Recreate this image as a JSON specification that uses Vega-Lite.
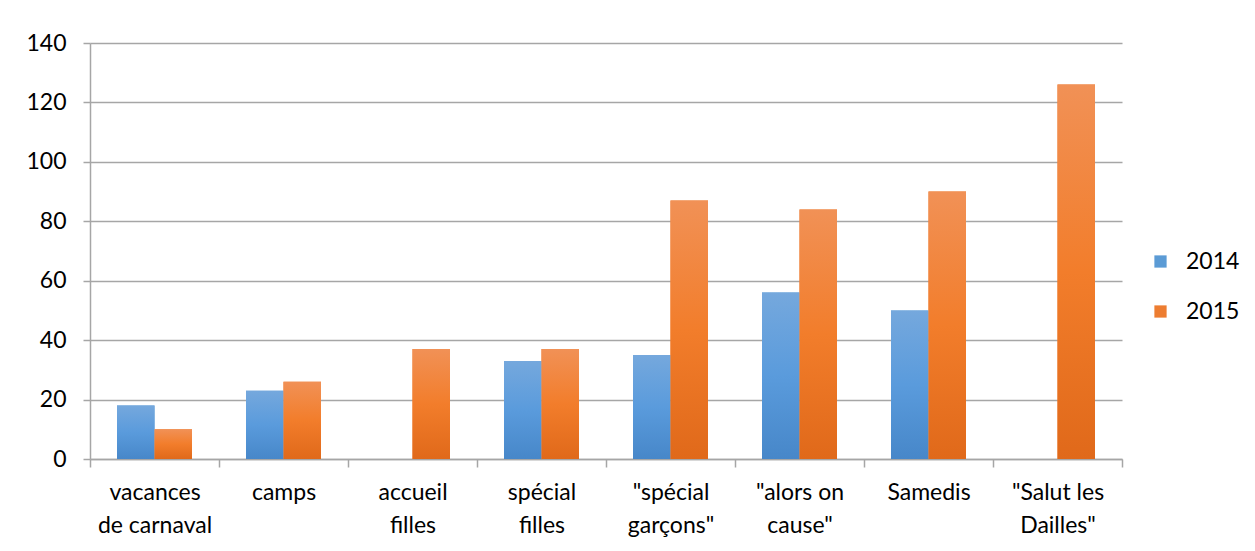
{
  "$schema": "https://vega.github.io/schema/vega-lite/v6.json",
  "autosize": {"type": "none"},
  "padding": {"left": 90, "top": 43, "right": 133, "bottom": 92},
  "width": 1032,
  "height": 416,
  "background": "white",
  "data": {
    "values": [
      {"activite": "vacances de carnaval", "annee": "2014", "participants": 18},
      {"activite": "vacances de carnaval", "annee": "2015", "participants": 10},
      {"activite": "camps", "annee": "2014", "participants": 23},
      {"activite": "camps", "annee": "2015", "participants": 26},
      {"activite": "accueil filles", "annee": "2015", "participants": 37},
      {"activite": "spécial filles", "annee": "2014", "participants": 33},
      {"activite": "spécial filles", "annee": "2015", "participants": 37},
      {"activite": "\"spécial garçons\"", "annee": "2014", "participants": 35},
      {"activite": "\"spécial garçons\"", "annee": "2015", "participants": 87},
      {"activite": "\"alors on cause\"", "annee": "2014", "participants": 56},
      {"activite": "\"alors on cause\"", "annee": "2015", "participants": 84},
      {"activite": "Samedis", "annee": "2014", "participants": 50},
      {"activite": "Samedis", "annee": "2015", "participants": 90},
      {"activite": "\"Salut les Dailles\"", "annee": "2015", "participants": 126}
    ]
  },
  "encoding": {
    "x": {
      "field": "activite",
      "type": "nominal",
      "sort": null,
      "title": null,
      "scale": {"paddingInner": 0, "paddingOuter": 0},
      "axis": {
        "labelAngle": 0,
        "labelFont": "Lato",
        "labelFontSize": 23,
        "labelColor": "#000000",
        "labelPadding": 14,
        "labelLineHeight": 33,
        "labelBaseline": "top",
        "domainColor": "#a6a6a6",
        "domainWidth": 1.5,
        "tickColor": "#a6a6a6",
        "tickWidth": 1.5,
        "tickSize": 8,
        "tickBand": "extent",
        "grid": false,
        "labelExpr": "datum.label == 'vacances de carnaval' ? ['vacances', 'de carnaval'] : datum.label == 'accueil filles' ? ['accueil', 'filles'] : datum.label == 'spécial filles' ? ['spécial', 'filles'] : datum.label == '\"spécial garçons\"' ? ['\"spécial', 'garçons\"'] : datum.label == '\"alors on cause\"' ? ['\"alors on', 'cause\"'] : datum.label == '\"Salut les Dailles\"' ? ['\"Salut les', 'Dailles\"'] : datum.label"
      }
    },
    "y": {
      "field": "participants",
      "type": "quantitative",
      "title": null,
      "scale": {"domain": [0, 140]},
      "axis": {
        "values": [0, 20, 40, 60, 80, 100, 120, 140],
        "labelFont": "Lato",
        "labelFontSize": 23,
        "labelColor": "#000000",
        "labelPadding": 17,
        "domainColor": "#a6a6a6",
        "domainWidth": 1.5,
        "tickColor": "#a6a6a6",
        "tickWidth": 1.5,
        "tickSize": 7,
        "gridColor": "#a6a6a6",
        "gridWidth": 1.5
      }
    },
    "xOffset": {
      "field": "annee",
      "type": "nominal",
      "scale": {"paddingInner": 0, "paddingOuter": 0.72}
    }
  },
  "layer": [
    {
      "mark": {"type": "bar"},
      "encoding": {
        "color": {
          "field": "annee",
          "type": "nominal",
          "title": null,
          "scale": {"domain": ["2014", "2015"], "range": ["#5b9bd5", "#ed7d31"]},
          "legend": {
            "orient": "none",
            "legendX": 1059,
            "legendY": 207,
            "symbolType": "square",
            "symbolSize": 150,
            "symbolStrokeWidth": 0,
            "labelFont": "Lato",
            "labelFontSize": 23,
            "labelColor": "#000000",
            "labelOffset": 14,
            "rowPadding": 26
          }
        }
      }
    },
    {
      "transform": [{"filter": "datum.annee == '2014'"}],
      "mark": {
        "type": "bar",
        "color": {
          "gradient": "linear",
          "x1": 0, "y1": 0, "x2": 0, "y2": 1,
          "stops": [
            {"offset": 0, "color": "#75a8dd"},
            {"offset": 0.5, "color": "#5a9bdc"},
            {"offset": 1, "color": "#4787c9"}
          ]
        }
      }
    },
    {
      "transform": [{"filter": "datum.annee == '2015'"}],
      "mark": {
        "type": "bar",
        "color": {
          "gradient": "linear",
          "x1": 0, "y1": 0, "x2": 0, "y2": 1,
          "stops": [
            {"offset": 0, "color": "#f19156"},
            {"offset": 0.5, "color": "#f27d2b"},
            {"offset": 1, "color": "#e0691a"}
          ]
        }
      }
    }
  ],
  "config": {
    "view": {"stroke": null},
    "font": "Lato"
  }
}
